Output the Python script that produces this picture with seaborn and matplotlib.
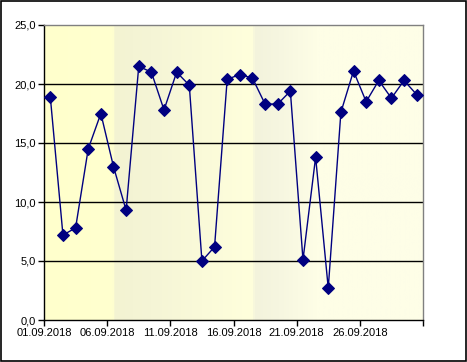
import numpy as np
import pandas as pd
import matplotlib
matplotlib.use("Agg")
import matplotlib.pyplot as plt
import matplotlib.dates as mdates
from matplotlib.colors import LinearSegmentedColormap
from matplotlib.patches import Rectangle
import seaborn as sns

# Daily values, September 2018
dates = pd.date_range("2018-09-01", "2018-09-30", freq="D")
values = [18.9, 7.2, 7.8, 14.5, 17.5, 13.0, 9.3, 21.5, 21.0, 17.8,
          21.0, 19.9, 5.0, 6.2, 20.4, 20.8, 20.5, 18.3, 18.3, 19.4,
          5.1, 13.8, 2.7, 17.6, 21.1, 18.5, 20.3, 18.8, 20.3, 19.1]
y_ticks = [0, 5, 10, 15, 20, 25]

df = pd.DataFrame({"date": dates + pd.Timedelta(hours=12), "value": values})

sns.set_style("white")
plt.rcParams["font.family"] = ["Liberation Sans", "DejaVu Sans"]

fig = plt.figure(figsize=(4.67, 3.62), dpi=100)
ax = fig.add_axes([44 / 467, 42 / 362, 379 / 467, 295 / 362])

# plot area background, excel-like gradient
bg = LinearSegmentedColormap.from_list("bg", [
    (0.00, "#FFFFCC"), (0.18, "#FFFFCF"), (0.185, "#F3F3D2"),
    (0.28, "#F5F5D6"), (0.55, "#FFFFDC"), (0.555, "#F3F3DC"),
    (0.62, "#F6F6E0"), (0.72, "#FEFEE6"), (1.00, "#FEFEE8")])
ax.imshow(np.linspace(0, 1, 400)[None, :], cmap=bg, aspect="auto",
          extent=[0, 1, 0, 1], transform=ax.transAxes, zorder=0)

for yv in y_ticks[1:-1]:
    ax.axhline(yv, color="black", lw=1, zorder=1)

sns.lineplot(data=df, x="date", y="value", ax=ax, color="#000080", lw=1,
             marker="D", markersize=6, markeredgecolor="#000080", zorder=3)

ax.set_xlim(pd.Timestamp("2018-09-01"), pd.Timestamp("2018-10-01"))
ax.set_ylim(0, 25)
ax.set_yticks(y_ticks)
ax.set_yticklabels([f"{v:.1f}".replace(".", ",") for v in y_ticks])
tick_dates = pd.date_range("2018-09-01", "2018-10-01", freq="5D")
ax.set_xticks(tick_dates)
labels = [t.strftime("%d.%m.%Y") for t in tick_dates]
labels[-1] = ""
ax.set_xticklabels(labels)
ax.set_xlabel("")
ax.set_ylabel("")
ax.tick_params(axis="both", direction="out", length=4, width=1, colors="black",
               labelsize=8, pad=2, bottom=True, left=True)

for side in ["left", "bottom"]:
    ax.spines[side].set_color("black")
    ax.spines[side].set_linewidth(1)
for side in ["top", "right"]:
    ax.spines[side].set_color("#808080")
    ax.spines[side].set_linewidth(1)

fig.patches.append(Rectangle((0.5 / 467, 1.5 / 362), 465 / 467, 359.5 / 362,
                             transform=fig.transFigure, fill=False,
                             edgecolor="black", lw=1.2))

fig.savefig("out.png", dpi=100)
